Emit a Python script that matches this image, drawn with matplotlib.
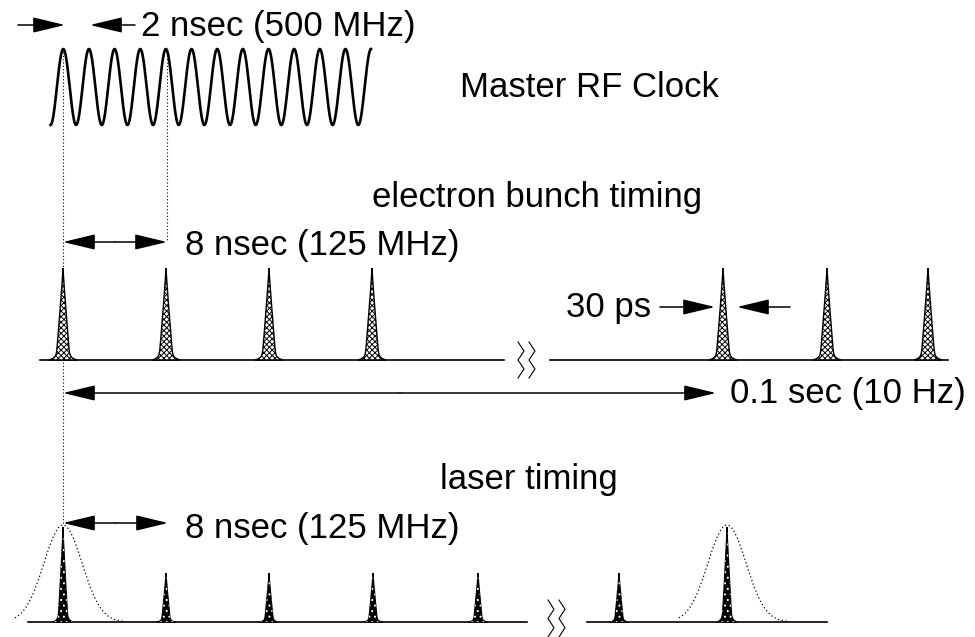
import numpy as np
import matplotlib.pyplot as plt
from matplotlib.patches import Polygon

plt.rcParams['font.family'] = ['Liberation Sans', 'DejaVu Sans']
plt.rcParams['hatch.linewidth'] = 0.7

# diagram positions (pixel-like units, y grows downward)
rf_x_start, rf_x_end = 50.5, 371
rf_period = 25.65
rf_top, rf_bottom = 49, 125

electron_pulse_x = [63, 166, 269, 372, 723, 827, 928]
electron_base_y = 360
electron_height = 92
electron_segments = [(40, 504), (550, 948)]

laser_pulse_x = [63, 166, 269, 373, 478, 619, 727]
laser_tall = [True, False, False, False, False, False, True]
laser_base_y = 622
laser_segments = [(28, 527), (587, 827)]
laser_envelope_x = [63, 727]

# text, left x, baseline y
labels = [
    ('2 nsec (500 MHz)', 141, 36),
    ('Master RF Clock', 460, 97),
    ('electron bunch timing', 372, 207),
    ('8 nsec (125 MHz)', 185, 255),
    ('30 ps', 566, 317),
    ('0.1 sec (10 Hz)', 730, 403),
    ('laser timing', 440, 489),
    ('8 nsec (125 MHz)', 185, 538),
]

fig = plt.figure(figsize=(9.75, 6.37), dpi=100)
ax = fig.add_axes([0, 0, 1, 1])
ax.set_xlim(0, 975)
ax.set_ylim(637, 0)
ax.axis('off')

# master clock sine
t = np.linspace(rf_x_start, rf_x_end, 1500)
mid = (rf_top + rf_bottom) / 2
amp = (rf_bottom - rf_top) / 2
ax.plot(t, mid - amp * np.cos(2 * np.pi * (t - 63.3) / rf_period), color='k', lw=1.9)


def pulse(ax, xc, base, height, half_w, foot, style):
	s = np.linspace(0, 1, 80)
	hw = half_w * (1 - s) ** 1.1 + foot * np.exp(-s * 45)
	ys = base - height * s
	xs = np.concatenate([xc - hw, (xc + hw)[::-1]])
	yy = np.concatenate([ys, ys[::-1]])
	pts = np.column_stack([xs, yy])
	if style == 'electron':
		ax.add_patch(Polygon(pts, closed=True, facecolor='white', edgecolor='k',
							 hatch='xxxxxx', lw=1.0, zorder=3))
	else:
		ax.add_patch(Polygon(pts, closed=True, facecolor='k', edgecolor='k', lw=0.8, zorder=3))
		ax.add_patch(Polygon(pts, closed=True, facecolor='none', edgecolor='white',
							 hatch='...', lw=0, zorder=4))


def arrow(ax, x0, x1, y, style='-|>'):
	ax.annotate('', xy=(x1, y), xytext=(x0, y),
				arrowprops=dict(arrowstyle=style + ',head_length=1.0,head_width=0.24',
								color='k', lw=1.1, mutation_scale=20,
								shrinkA=0, shrinkB=0))


def zigzag(ax, x, y0, y1):
	yy = np.linspace(y0, y1, 5)
	xx = x + np.array([0, 6, 0, 6, 0]) - 3
	ax.plot(xx, yy, color='k', lw=0.8)


# dotted guides
ax.plot([63, 63], [52, 525], color='k', lw=0.8, ls=(0, (1, 2)))
ax.plot([166.5, 166.5], [52, 240], color='k', lw=0.8, ls=(0, (1, 2)))

# electron bunch line
for a, b in electron_segments:
	ax.plot([a, b], [electron_base_y, electron_base_y], color='k', lw=1.2)
for x in electron_pulse_x:
	pulse(ax, x, electron_base_y, electron_height, 7, 7, 'electron')
zigzag(ax, 521, 342, 378)
zigzag(ax, 532, 342, 378)

# laser line
for a, b in laser_segments:
	ax.plot([a, b], [laser_base_y, laser_base_y], color='k', lw=1.2)
for x, tall in zip(laser_pulse_x, laser_tall):
	pulse(ax, x, laser_base_y, 95 if tall else 49, 5 if tall else 4.5, 5, 'laser')
zigzag(ax, 551, 600, 637)
zigzag(ax, 562, 600, 637)
for xc in laser_envelope_x:
	g = np.linspace(xc - 48, xc + 60, 200)
	ax.plot(g, laser_base_y - 97 * np.exp(-((g - xc) / 27) ** 2), color='k',
			lw=0.9, ls=(0, (1, 2)))

# arrows
arrow(ax, 18, 65, 25)
arrow(ax, 135, 90, 25)
arrow(ax, 115, 63, 242)
arrow(ax, 115, 167, 242)
arrow(ax, 660, 715, 307)
arrow(ax, 790, 737, 307)
arrow(ax, 400, 63, 393)
arrow(ax, 400, 716, 393)
arrow(ax, 115, 63, 523)
arrow(ax, 115, 168, 523)

for txt, x, y in labels:
	ax.text(x, y, txt, fontsize=25, ha='left', va='baseline', color='k')

fig.savefig('out.png', dpi=100)
